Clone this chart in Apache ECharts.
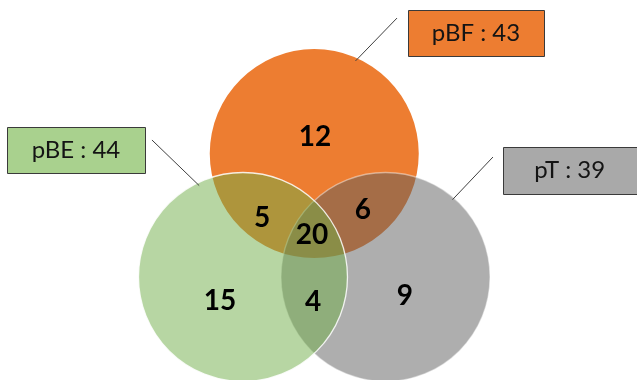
<!DOCTYPE html>
<html>
<head>
<meta charset="utf-8">
<script src="https://cdn.jsdelivr.net/npm/echarts@6/dist/echarts.min.js"></script>
<style>
  html, body { margin: 0; padding: 0; background: #ffffff; }
  #chart { width: 637px; height: 380px; }
</style>
</head>
<body>
<div id="chart"></div>
<script>
// ---- Data ----
// The three sets and their totals
const setNames = ['pBF', 'pBE', 'pT'];
const setTotals = [43, 44, 39];
// Each Venn region: which sets it belongs to, and its count
const regionMembers = [[0], [0, 1], [0, 2], [0, 1, 2], [1], [1, 2], [2]];
const regionCounts = [12, 5, 6, 20, 15, 4, 9];

// ---- Layout (unit space: every circle has radius 1) ----
const venn = {
  radius: 1,
  centers: [[0, 1.181], [-0.682, 0], [0.682, 0]],        // pBF, pBE, pT
  // label anchors for the regions, same order as regionCounts
  anchors: [[0.007, 1.34], [-0.5, 0.565], [0.466, 0.641], [-0.022, 0.402],
            [-0.902, -0.23], [-0.012, -0.239], [0.868, -0.182]],
  drawOrder: [0, 2, 1]                                    // pBF under pT under pBE
};
// callouts: leader line leaves the circle at `angle` (deg), ends at `end`; box [left, top, right, bottom]
const callouts = [
  { angle: 66,    startR: 0.97, end: [0.792, 2.478],  box: [0.897, 2.555, 2.198, 2.115] },
  { angle: 115.6, startR: 0.97, end: [-1.553, 1.311], box: [-2.940, 1.435, -1.620, 0.995] },
  { angle: 49.1,  startR: 0.98, end: [1.710, 1.148],  box: [1.806, 1.244, 3.084, 0.794] }
];

// ---- Styles ----
const circleFill = ['#ED7D31', 'rgba(112,173,71,0.5)', 'rgba(93,93,93,0.5)'];
const circleStroke = [null, 'rgba(255,255,255,0.85)', 'rgba(255,255,255,0.45)'];
const boxFill = ['#ED7D31', '#A9D18E', '#A9A9A9'];
const textFont = 'Lato, "Open Sans", sans-serif';

// pixel frame of the drawing
const view = { unitPx: 104.5, originX: 314.25, originY: 277, width: 637, height: 380 };

const chart = echarts.init(document.getElementById('chart'), null, { renderer: 'canvas' });

chart.setOption({
  animation: false,
  backgroundColor: '#ffffff',
  grid: { left: 0, right: 0, top: 0, bottom: 0 },
  xAxis: {
    type: 'value', show: false,
    min: -view.originX / view.unitPx,
    max: (view.width - view.originX) / view.unitPx
  },
  yAxis: {
    type: 'value', show: false,
    min: -(view.height - view.originY) / view.unitPx,
    max: view.originY / view.unitPx
  },
  series: [
    {
      // the three set circles
      type: 'custom',
      coordinateSystem: 'cartesian2d',
      silent: true,
      z: 1,
      data: venn.drawOrder.map(i => ({ name: setNames[i], value: [i, setTotals[i]] })),
      renderItem: (params, api) => {
        const i = venn.drawOrder[params.dataIndex];
        const c = api.coord(venn.centers[i]);
        const r = api.size([venn.radius, 0])[0];
        const stroke = circleStroke[i];
        return {
          type: 'circle',
          shape: { cx: c[0], cy: c[1], r: r },
          style: {
            fill: circleFill[i],
            stroke: stroke || 'none',
            lineWidth: stroke ? 1.3 : 0
          }
        };
      }
    },
    {
      // region counts
      type: 'custom',
      coordinateSystem: 'cartesian2d',
      silent: true,
      z: 3,
      data: regionCounts.map((v, k) => ({ name: regionMembers[k].map(m => setNames[m]).join('∩'), value: [k, v] })),
      renderItem: (params, api) => {
        const p = api.coord(venn.anchors[params.dataIndex]);
        return {
          type: 'text',
          x: p[0], y: p[1],
          style: {
            text: String(api.value(1)),
            fill: '#000000',
            fontFamily: textFont,
            fontWeight: 'bold',
            fontSize: 28,
            align: 'center',
            verticalAlign: 'middle'
          }
        };
      }
    },
    {
      // callout boxes with set totals
      type: 'custom',
      coordinateSystem: 'cartesian2d',
      silent: true,
      z: 2,
      data: setNames.map((n, i) => ({ name: n, value: [i, setTotals[i]] })),
      renderItem: (params, api) => {
        const i = params.dataIndex;
        const co = callouts[i];
        const ctr = venn.centers[i];
        const a = co.angle * Math.PI / 180;
        const s = api.coord([ctr[0] + co.startR * Math.cos(a), ctr[1] + co.startR * Math.sin(a)]);
        const e = api.coord(co.end);
        const tl = api.coord([co.box[0], co.box[1]]);
        const br = api.coord([co.box[2], co.box[3]]);
        return {
          type: 'group',
          children: [
            {
              type: 'line',
              shape: { x1: s[0], y1: s[1], x2: e[0], y2: e[1] },
              style: { stroke: '#404040', lineWidth: 1 }
            },
            {
              type: 'rect',
              shape: { x: Math.round(tl[0]) + 0.5, y: Math.round(tl[1]) + 0.5,
                       width: Math.round(br[0] - tl[0]), height: Math.round(br[1] - tl[1]) },
              style: { fill: boxFill[i], stroke: '#3a3a3a', lineWidth: 1 }
            },
            {
              type: 'text',
              x: (tl[0] + br[0]) / 2, y: (tl[1] + br[1]) / 2,
              style: {
                text: setNames[i] + ' : ' + api.value(1),
                fill: '#141414',
                fontFamily: textFont,
                fontSize: 24,
                align: 'center',
                verticalAlign: 'middle'
              }
            }
          ]
        };
      }
    }
  ]
});
</script>
</body>
</html>
